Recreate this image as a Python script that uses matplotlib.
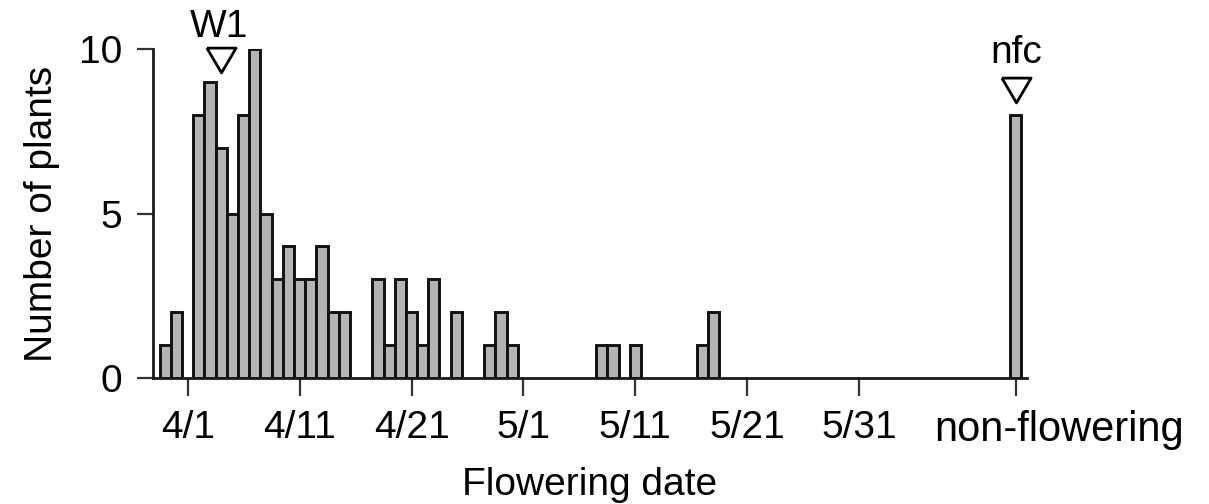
import matplotlib
matplotlib.use("Agg")
import matplotlib.pyplot as plt
import matplotlib.transforms as mtrans
import pandas as pd

plt.rcParams['font.family'] = ['Liberation Sans', 'DejaVu Sans']

# ---- data ----
flowering_dates = ['3/30', '3/31', '4/2', '4/3', '4/4', '4/5', '4/6', '4/7', '4/8',
                   '4/9', '4/10', '4/11', '4/12', '4/13', '4/14', '4/15', '4/18',
                   '4/19', '4/20', '4/21', '4/22', '4/23', '4/25', '4/28', '4/29',
                   '4/30', '5/8', '5/9', '5/11', '5/17', '5/18']
plant_counts = [1, 2, 8, 9, 7, 5, 8, 10, 5, 3, 4, 3, 3, 4, 2, 2, 3,
                1, 3, 2, 1, 3, 2, 1, 2, 1, 1, 1, 1, 1, 2]
nonflowering_count = 8
nonflowering_pos = 74          # position on the day axis (days after 4/1)
tick_dates = ['4/1', '4/11', '4/21', '5/1', '5/11', '5/21', '5/31']
nonflowering_label = 'non-flowering'
marker_w1_date = '4/4'
yticks = [0, 5, 10]

# ---- convert dates to day offsets from 4/1 ----
def day_offset(md):
    ref = pd.Timestamp('2000-04-01')
    m, d = md.split('/')
    return (pd.Timestamp(year=2000, month=int(m), day=int(d)) - ref).days

x_days = [day_offset(d) for d in flowering_dates]
x_ticks = [day_offset(d) for d in tick_dates] + [nonflowering_pos]
x_ticklabels = tick_dates + [nonflowering_label]

fig = plt.figure(figsize=(12.09, 5.04), dpi=100)
ax = fig.add_axes([153/1209, 126/504, 874/1209, 329/504])

bar_kw = dict(width=1.0, color='#b4b4b4', edgecolor='#111111', linewidth=2.1, zorder=3)
ax.bar(x_days, plant_counts, **bar_kw)
ax.bar([nonflowering_pos], [nonflowering_count], **bar_kw)

ax.set_xlim(-3.1, 75.0)
ax.set_ylim(0, 10)

for s in ['top', 'right']:
    ax.spines[s].set_visible(False)
for s in ['left', 'bottom']:
    ax.spines[s].set_linewidth(2.0)
    ax.spines[s].set_color('#1a1a1a')
ax.spines['bottom'].set_zorder(4)

ax.set_yticks(yticks)
ax.set_xticks(x_ticks)
ax.set_xticklabels(x_ticklabels)
ax.tick_params(axis='y', length=11.5, width=1.6, color='#333333', pad=11, labelsize=28)
ax.tick_params(axis='x', length=13, width=1.6, color='#333333', pad=10, labelsize=28)

# non-flowering label: wider and shifted right of its tick, as in the reference
nf_lab = ax.get_xticklabels()[-1]
nf_lab.set_fontsize(30)
nf_lab.set_transform(nf_lab.get_transform() +
                     mtrans.ScaledTranslation(43/100, 0, fig.dpi_scale_trans))

ax.set_ylabel('Number of plants', fontsize=28)
ax.yaxis.set_label_coords(-0.106, 0.5)
ax.set_xlabel('Flowering date', fontsize=28)
ax.xaxis.set_label_coords(0.5, -0.27)

# triangle markers
tri = [(-1.0, 0.85), (1.0, 0.85), (0.0, -0.85), (-1.0, 0.85)]
w1x = day_offset(marker_w1_date)
mk = dict(marker=tri, markersize=21, markerfacecolor='white', markeredgecolor='black',
          markeredgewidth=2.0, linestyle='none', clip_on=False, zorder=5)
ax.plot([w1x], [9.67], **mk)
ax.plot([nonflowering_pos], [8.75], **mk)
ax.text(w1x - 0.2, 10.37, 'W1', fontsize=28, ha='center', va='baseline', clip_on=False)
ax.text(nonflowering_pos, 9.57, 'nfc', fontsize=28, ha='center', va='baseline', clip_on=False)

fig.savefig('out.png', dpi=100)
